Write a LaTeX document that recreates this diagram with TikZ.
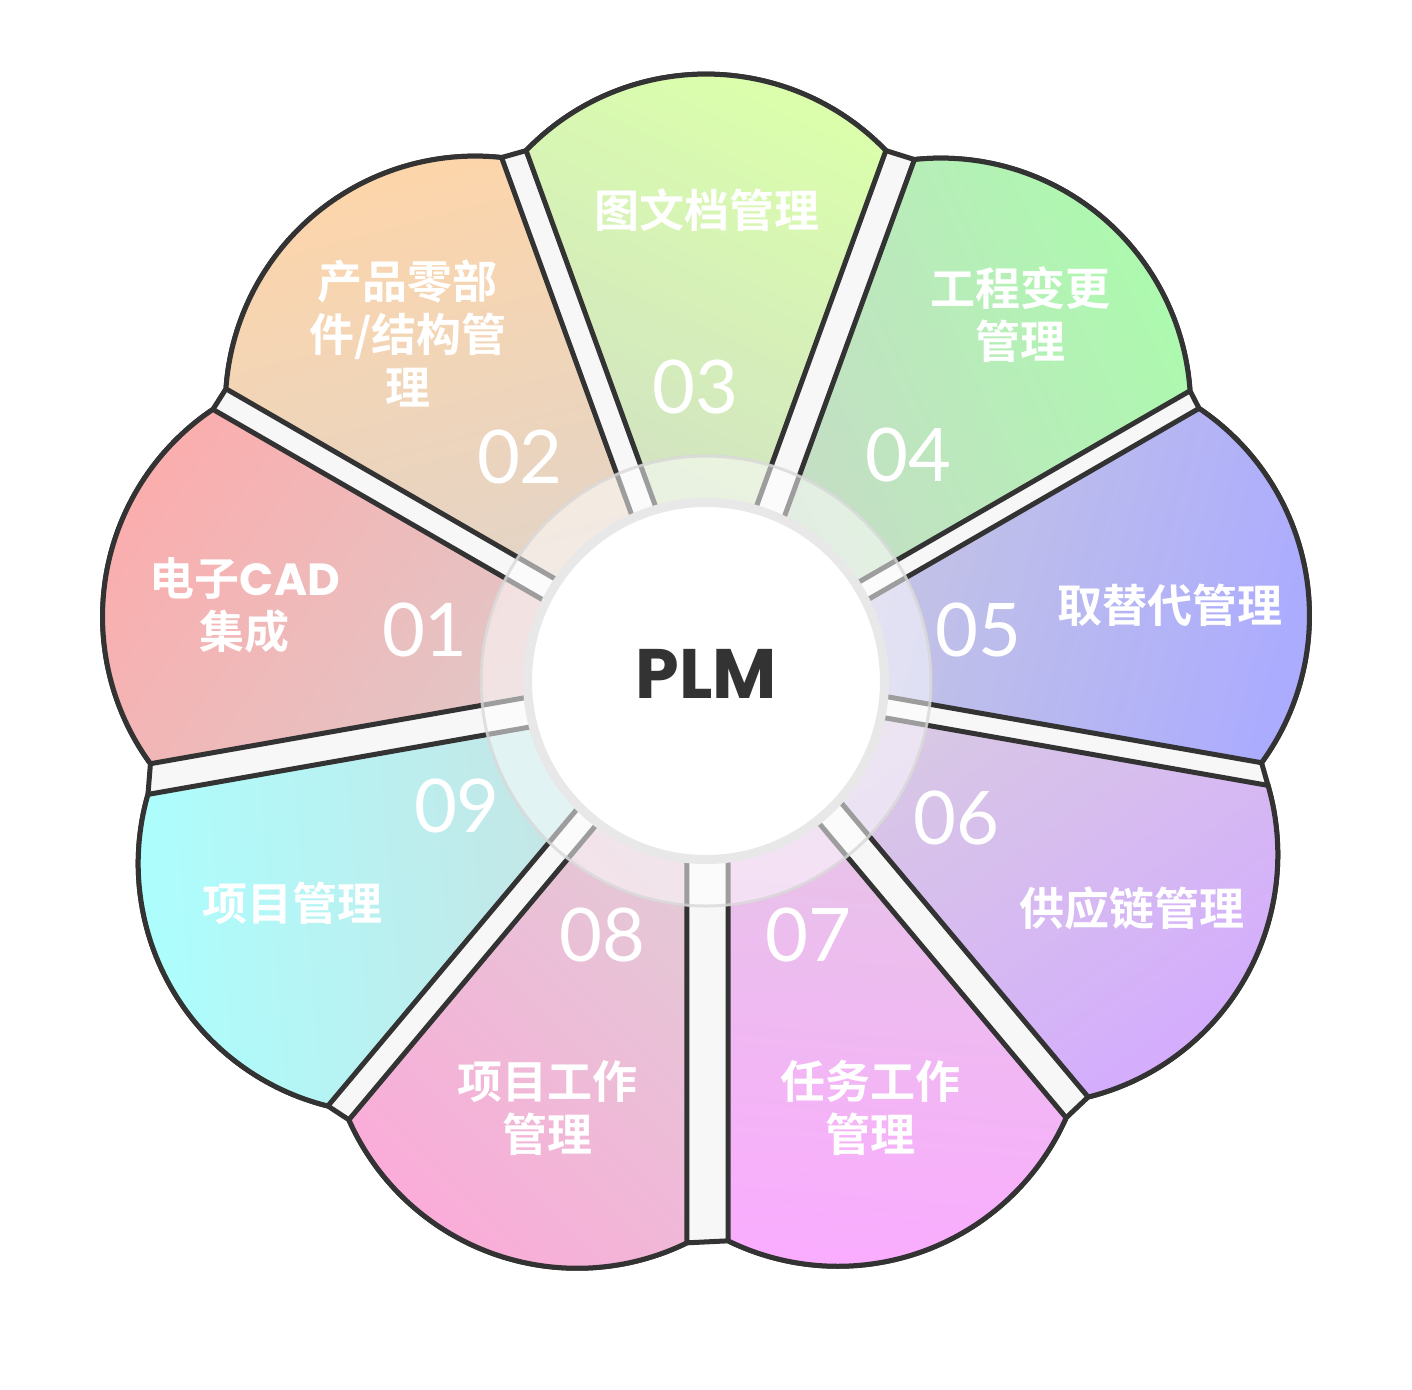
\documentclass[tikz,border=0pt]{standalone}
\usepackage{fontspec}
\newfontfamily\cjkfont{Noto Sans CJK SC}[BoldFont={Noto Sans CJK SC Bold}]
\newfontfamily\numfont{Lato}
\newfontfamily\plmfont{Poppins}[BoldFont={Poppins Bold}]
\definecolor{edge}{HTML}{333333}
\definecolor{gapfill}{HTML}{F7F7F7}
\definecolor{ringedge}{HTML}{D4D4D4}
\definecolor{hubedge}{HTML}{E8E8E8}
\definecolor{tipA}{HTML}{FAAEAE}\definecolor{inA}{HTML}{DECACA}
\definecolor{tipB}{HTML}{FDD5AA}\definecolor{inB}{HTML}{E0D4CA}
\definecolor{tipC}{HTML}{DAFEAC}\definecolor{inC}{HTML}{D0DCC8}
\definecolor{tipD}{HTML}{ACFAAE}\definecolor{inD}{HTML}{C8DAC8}
\definecolor{tipE}{HTML}{ACACFE}\definecolor{inE}{HTML}{CACADE}
\definecolor{tipF}{HTML}{D4ACFE}\definecolor{inF}{HTML}{D8CAE2}
\definecolor{tipG}{HTML}{FAACFE}\definecolor{inG}{HTML}{E2CAE2}
\definecolor{tipH}{HTML}{FAACD8}\definecolor{inH}{HTML}{E2CAD6}
\definecolor{tipI}{HTML}{ACFEFE}\definecolor{inI}{HTML}{CAE0E0}
\tikzset{
  basefill/.style={fill=gapfill, draw=edge, line width=2.5pt},
  petal/.style={draw=edge, line width=2.5pt},
  lbl/.style={text=white, font=\cjkfont\bfseries\fontsize{22.5}{26.5}\selectfont, align=center, inner sep=0pt},
  num/.style={text=white, font=\numfont\fontsize{37}{37}\selectfont, inner sep=0pt},
}
\begin{document}
\begin{tikzpicture}[x=0.5pt,y=0.5pt]
\useasboundingbox (-706,-708) rectangle (706,681);
% base flower (visible in the gaps)
\path[basefill] ([shift={(0,-2)}]108.67:562)
  \foreach \a/\dx/\dy in {90/0/-2, 50/4/-2, 10/0/3, -30/11/6, -70/9/2,
      -110/-6/0, -150/-7/-3, -190/0/2, -230/0/0} {
    -- ([shift={(\dx,\dy)}]\a+18.67:562) arc[start angle=\a+46.07, end angle=\a-46.07, radius=249.8]
  } -- cycle;
% petals
\foreach \a/\s/\tc/\ic/\dx/\dy in {90/-25/tipC/inC/0/-2, 50/-65/tipD/inD/4/-2,
  10/-105/tipE/inE/0/3, -30/-145/tipF/inF/11/6, -70/175/tipG/inG/9/2,
  -110/135/tipH/inH/-6/0, -150/95/tipI/inI/-7/-3,
  170/55/tipA/inA/0/2, 130/15/tipB/inB/0/0} {
  \path[petal, top color=\tc, bottom color=\ic, shading angle=\s, shift={(\dx,\dy)}]
    (\a:38) -- (\a+18.67:562) arc[start angle=\a+46.07, end angle=\a-46.07, radius=249.8] -- cycle;
}
% translucent ring
\fill[white, fill opacity=0.52] (0,0) circle[radius=226];
\draw[ringedge, line width=1.5pt, draw opacity=0.7] (0,0) circle[radius=225];
% hub
\node[circle, fill=white, draw=hubedge, line width=4.5pt, minimum size=178.5pt, inner sep=0pt] (hub) at (0,0) {};
\node[text=edge, font=\plmfont\bfseries\fontsize{35}{35}\selectfont, inner sep=0pt] (plm) at (0,7) {PLM};
% labels
\node[lbl] (t01) at (-461,76) {电子{\plmfont CAD}\\集成};
\node[num] (n01) at (-281,51) {01};
\node[lbl] (t02) at (-298,348) {产品零部\\件/结构管\\理};
\node[num] (n02) at (-186,224) {02};
\node[lbl] (t03) at (1,471) {图文档管理};
\node[num] (n03) at (-11,294) {03};
\node[lbl] (t04) at (314,366) {工程变更\\管理};
\node[num] (n04) at (202,226) {04};
\node[lbl] (t05) at (464,76) {取替代管理};
\node[num] (n05) at (272,51) {05};
\node[lbl] (t06) at (426,-227) {供应链管理};
\node[num] (n06) at (250,-137) {06};
\node[lbl] (t07) at (164,-427) {任务工作\\管理};
\node[num] (n07) at (102,-254) {07};
\node[lbl] (t08) at (-158,-427) {项目工作\\管理};
\node[num] (n08) at (-104,-254) {08};
\node[lbl] (t09) at (-413,-222) {项目管理};
\node[num] (n09) at (-249,-125) {09};
\end{tikzpicture}
\end{document}
